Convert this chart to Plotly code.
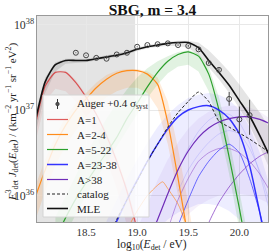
import plotly.graph_objects as go
import numpy as np

# ---------------- data (log10 of E^3 J) ----------------
X = [18.0, 18.1, 18.2, 18.3, 18.4, 18.5, 18.6, 18.7, 18.8, 18.9, 19.0, 19.1,
     19.2, 19.3, 19.4, 19.5, 19.6, 19.7, 19.8, 19.9, 20.0, 20.1, 20.2, 20.3]

mle = [36.85, 37.33, 37.53, 37.58, 37.58, 37.58, 37.60, 37.62, 37.64, 37.67, 37.71, 37.74,
       37.76, 37.78, 37.79, 37.79, 37.73, 37.58, 37.44, 37.29, 37.11, 36.93, 36.70, 36.45]
mle_hi = [36.95, 37.38, 37.56, 37.60, 37.60, 37.60, 37.62, 37.64, 37.66, 37.69, 37.73, 37.76,
          37.78, 37.80, 37.81, 37.81, 37.79, 37.70, 37.58, 37.45, 37.30, 37.14, 36.97, 36.78]
mle_lo = [36.70, 37.20, 37.45, 37.54, 37.55, 37.56, 37.58, 37.60, 37.62, 37.65, 37.69, 37.72,
          37.74, 37.75, 37.75, 37.73, 37.64, 37.50, 37.36, 37.20, 37.02, 36.82, 36.57, 36.30]

X_a1 = [18.0, 18.1, 18.2, 18.3, 18.4, 18.5, 18.6, 18.7, 18.8, 18.9, 19.0, 19.1]
a1 = [36.80, 37.28, 37.44, 37.44, 37.32, 37.15, 36.95, 36.70, 36.40, 36.05, 35.60, 35.10]
a1_hi = [36.90, 37.33, 37.46, 37.46, 37.35, 37.18, 36.98, 36.74, 36.45, 36.10, 35.68, 35.20]
a1_lo = [36.60, 37.10, 37.25, 37.22, 37.10, 36.92, 36.70, 36.42, 36.08, 35.65, 35.15, 34.60]

X_a2 = [18.0, 18.1, 18.2, 18.3, 18.4, 18.5, 18.6, 18.7, 18.8, 18.9, 19.0, 19.1,
        19.2, 19.3, 19.4, 19.5, 19.6]
a2 = [35.97, 36.30, 36.60, 36.82, 37.00, 37.13, 37.26, 37.36, 37.43, 37.46, 37.46, 37.42,
      37.30, 36.85, 36.20, 35.50, 34.80]
a2_hi = [36.10, 36.42, 36.70, 36.92, 37.08, 37.20, 37.32, 37.41, 37.46, 37.48, 37.48, 37.45,
         37.38, 37.10, 36.55, 35.90, 35.20]
a2_lo = [35.70, 36.05, 36.35, 36.58, 36.76, 36.92, 37.05, 37.15, 37.22, 37.26, 37.26, 37.20,
         37.02, 36.60, 36.00, 35.35, 34.70]

X_a5 = [18.2, 18.3, 18.4, 18.5, 18.6, 18.7, 18.8, 18.9, 19.0, 19.1, 19.2, 19.3,
        19.4, 19.5, 19.6, 19.7, 19.8, 19.9, 20.0, 20.1, 20.2]
a5 = [35.50, 35.74, 35.96, 36.15, 36.33, 36.50, 36.68, 36.90, 37.08, 37.27, 37.44, 37.57,
      37.65, 37.68, 37.63, 37.42, 37.00, 36.45, 35.85, 35.20, 34.60]
a5_hi = [35.75, 36.00, 36.25, 36.48, 36.70, 36.90, 37.08, 37.24, 37.38, 37.49, 37.57, 37.63,
         37.68, 37.70, 37.66, 37.50, 37.15, 36.65, 36.05, 35.40, 34.80]
a5_lo = [35.30, 35.55, 35.78, 36.00, 36.20, 36.38, 36.56, 36.75, 36.95, 37.14, 37.30, 37.43,
         37.51, 37.53, 37.45, 37.22, 36.80, 36.25, 35.60, 35.00, 34.40]

X_hi = [18.7, 18.8, 18.9, 19.0, 19.1, 19.2, 19.3, 19.4, 19.5, 19.6, 19.7, 19.8,
        19.9, 20.0, 20.1, 20.2, 20.3]
a23 = [35.45, 35.70, 35.95, 36.18, 36.40, 36.60, 36.78, 36.92, 37.00, 37.04, 37.05, 37.00,
       36.90, 36.72, 36.35, 35.80, 35.20]
a23_hi = [35.70, 35.95, 36.20, 36.42, 36.62, 36.80, 36.95, 37.06, 37.14, 37.18, 37.20, 37.18,
          37.12, 37.00, 36.80, 36.50, 36.10]
a23_lo = [34.80, 35.00, 35.20, 35.35, 35.50, 35.62, 35.72, 35.80, 35.85, 35.90, 35.90, 35.88,
          35.82, 35.72, 35.60, 35.45, 35.30]
catalog = [35.45, 35.72, 35.95, 36.17, 36.40, 36.60, 36.80, 36.97, 37.10, 37.21, 37.10, 36.87,
           36.80, 36.73, 36.66, 36.58, 36.50]

X_a39 = [19.0, 19.1, 19.2, 19.3, 19.4, 19.5, 19.6, 19.7, 19.8, 19.9, 20.0, 20.1, 20.2, 20.3]
a39 = [35.20, 35.45, 35.72, 36.02, 36.30, 36.52, 36.68, 36.79, 36.86, 36.90, 36.92, 36.92,
       36.89, 36.84]
a39_hi = [35.60, 35.90, 36.18, 36.42, 36.62, 36.78, 36.90, 36.98, 37.03, 37.05, 37.05, 37.03,
          36.98, 36.90]
a39_lo = [34.80, 35.05, 35.30, 35.50, 35.65, 35.78, 35.88, 35.95, 36.00, 36.02, 36.02, 36.00,
          35.96, 35.90]

# a few individually visible ensemble members
X_b2 = [19.4, 19.5, 19.6, 19.7, 19.8, 19.9, 20.0, 20.1, 20.2, 20.3]
blue_b2 = [35.65, 35.95, 36.22, 36.40, 36.53, 36.60, 36.50, 36.20, 35.80, 35.30]
blue_b3 = [36.30, 36.55, 36.75, 36.88, 36.95, 36.95, 36.85, 36.62, 36.25, 35.80]
blue_b4 = [36.05, 36.30, 36.48, 36.62, 36.72, 36.76, 36.72, 36.55, 36.28, 35.90]
X_p2 = [19.6, 19.7, 19.8, 19.9, 20.0, 20.1, 20.2, 20.3]
purple_p2 = [35.35, 35.68, 35.92, 36.10, 36.25, 36.37, 36.46, 36.52]
X_p3 = [19.2, 19.3, 19.4, 19.5, 19.6, 19.7, 19.8, 19.9, 20.0, 20.1, 20.2, 20.3]
purple_p3 = [35.20, 35.60, 35.95, 36.20, 36.40, 36.50, 36.55, 36.55, 36.50, 36.40, 36.25, 36.05]
X_o2 = [18.9, 19.0, 19.1, 19.2, 19.25, 19.3, 19.4, 19.5]
orange_o2 = [35.60, 35.82, 36.00, 36.12, 36.16, 36.08, 35.90, 35.60]

# Auger data (+0.4 sigma_syst)
auger_x = [18.4, 18.5, 18.6, 18.7, 18.8, 18.9, 19.0, 19.1, 19.2, 19.3, 19.4, 19.5,
           19.6, 19.7, 19.8, 19.9, 20.0, 20.1]
auger_y = [37.67, 37.64, 37.61, 37.60, 37.65, 37.67, 37.74, 37.76, 37.77, 37.78, 37.76, 37.75,
           37.71, 37.55, 37.47, 37.13, 36.89, 36.94]
auger_eu = [0.005, 0.005, 0.005, 0.005, 0.005, 0.005, 0.005, 0.005, 0.006, 0.007, 0.008, 0.01,
            0.012, 0.015, 0.02, 0.08, 0.15, 0.18]
auger_ed = [0.005, 0.005, 0.005, 0.005, 0.005, 0.005, 0.005, 0.005, 0.006, 0.007, 0.008, 0.01,
            0.012, 0.015, 0.02, 0.08, 0.16, 0.23]

xticks = [18.5, 19.0, 19.5, 20.0]
xticklabels = ["18.5", "19.0", "19.5", "20.0"]
shade_end = 18.98

legend_labels = ["Auger +0.4 σ<sub>syst</sub>", "A=1", "A=2-4", "A=5-22", "A=23-38",
                 "A&gt;38", "catalog", "MLE"]

# ---------------- figure ----------------
def lin(v):
    return list(10.0 ** np.asarray(v))

SERIF = "Liberation Serif, DejaVu Serif, serif"
fig = go.Figure()

def band(xs, hi, lo, fillcolor):
    fig.add_trace(go.Scatter(
        x=list(xs) + list(xs)[::-1], y=lin(list(hi) + list(lo)[::-1]),
        fill="toself", fillcolor=fillcolor, line=dict(width=0),
        mode="lines", showlegend=False, hoverinfo="skip"))

def thin(xs, ys, color, w=0.8):
    fig.add_trace(go.Scatter(x=xs, y=lin(ys), mode="lines",
                             line=dict(color=color, width=w, shape="spline", smoothing=0.6),
                             showlegend=False, hoverinfo="skip"))

band(X_hi, a23_hi, a23_lo, "rgba(90,90,255,0.11)")
band(X_a39, a39_hi, a39_lo, "rgba(130,60,200,0.07)")
band(X_a1, a1_hi, a1_lo, "rgba(214,39,40,0.09)")
band(X_a2, a2_hi, a2_lo, "rgba(255,127,14,0.15)")
band(X_a5, a5_hi, a5_lo, "rgba(44,160,44,0.14)")
band(X, mle_hi, mle_lo, "rgba(0,0,0,0.10)")
thin(X_b2, blue_b3, "rgba(80,80,255,0.25)", 0.7)
thin(X_b2, blue_b4, "rgba(80,80,255,0.25)", 0.7)
thin(X_b2, blue_b2, "rgba(40,40,255,0.75)", 0.9)
thin(X_p2, purple_p2, "rgba(120,40,190,0.75)", 0.9)
thin(X_p3, purple_p3, "rgba(120,40,190,0.55)", 0.8)
thin(X_o2, orange_o2, "rgba(255,127,14,0.75)", 0.8)

styles = {}
def main(xs, ys, key, color, w, dash=None):
    styles[key] = (color, w, dash)
    fig.add_trace(go.Scatter(x=xs, y=lin(ys), mode="lines", showlegend=False,
                             line=dict(color=color, width=w, dash=dash, shape="spline", smoothing=0.6)))

main(X_a1, a1, "A=1", "rgba(214,39,40,0.75)", 1.2)
main(X_a2, a2, "A=2-4", "#ff8c1a", 1.2)
main(X_a5, a5, "A=5-22", "#2ca02c", 1.2)
main(X_hi, a23, "A=23-38", "rgba(30,30,255,0.9)", 1.5)
main(X_a39, a39, "A&gt;38", "#6f2cb8", 1.2)
main(X_hi, catalog, "catalog", "#222222", 1.0, dash="3px,2px")
main(X, mle, "MLE", "#111111", 1.6)

ay = np.asarray(auger_y)
err_plus = list(10 ** (ay + np.asarray(auger_eu)) - 10 ** ay)
err_minus = list(10 ** ay - 10 ** (ay - np.asarray(auger_ed)))
fig.add_trace(go.Scatter(
    x=auger_x, y=lin(auger_y), mode="markers", showlegend=False,
    marker=dict(symbol="circle-open", size=5, color="#444", line=dict(width=1, color="#444")),
    error_y=dict(type="data", array=err_plus, arrayminus=err_minus, color="#444",
                 thickness=1, width=0)))

fig.add_shape(type="rect", xref="x", yref="paper", x0=17.9, x1=shade_end, y0=0, y1=1,
              fillcolor="#e4e4e4", line=dict(width=0), layer="below")

# ---- manual legend and axis titles (paper coordinates) ----
L = 37.0; T = 16.0; W = 231.0; H = 206.0
def px2x(px): return (px - L) / W
def py2y(py): return (T + H - py) / H

fig.add_shape(type="rect", xref="paper", yref="paper",
              x0=px2x(43), x1=px2x(149), y0=py2y(217), y1=py2y(95),
              fillcolor="rgba(255,255,255,0.82)", line=dict(color="#d4d4d4", width=1), layer="above")
rows = [104, 119.5, 134.5, 149.5, 164.5, 179.5, 194, 208.5]
for lab, ry in zip(legend_labels, rows):
    if lab.startswith("Auger"):
        fig.add_shape(type="line", xref="paper", yref="paper", x0=px2x(57.5), x1=px2x(57.5),
                      y0=py2y(ry - 5), y1=py2y(ry + 5), line=dict(color="#333", width=1), layer="above")
        fig.add_shape(type="circle", xref="paper", yref="paper", x0=px2x(55.8), x1=px2x(59.2),
                      y0=py2y(ry + 1.7), y1=py2y(ry - 1.7), fillcolor="#555",
                      line=dict(color="#333", width=0.8), layer="above")
    else:
        c, w, d = styles[lab]
        fig.add_shape(type="line", xref="paper", yref="paper", x0=px2x(47), x1=px2x(68),
                      y0=py2y(ry), y1=py2y(ry), line=dict(color=c, width=w, dash=d), layer="above")
    fig.add_annotation(xref="paper", yref="paper", x=px2x(75), y=py2y(ry), text=lab,
                       showarrow=False, xanchor="left", yanchor="middle",
                       font=dict(family=SERIF, size=11, color="#222"))

fig.add_annotation(xref="paper", yref="paper", x=px2x(152), y=py2y(244.5), text=
                   "log<sub>10</sub>(<i>E</i><sub>det</sub> / eV)", showarrow=False,
                   xanchor="center", yanchor="middle",
                   font=dict(family=SERIF, size=11.5, color="#222"))
fig.add_annotation(xref="paper", yref="paper", x=px2x(12), y=py2y(122), textangle=-90, text=
                   "<i>E</i><sup>3</sup><sub>det</sub> <i>J</i><sub>det</sub>(<i>E</i><sub>det</sub>) / (km<sup>−2</sup> yr<sup>−1</sup> sr<sup>−1</sup> eV<sup>2</sup>)",
                   showarrow=False, xanchor="center", yanchor="middle",
                   font=dict(family=SERIF, size=11, color="#222"))

fig.update_layout(
    width=270, height=252,
    margin=dict(l=37, r=2, t=16, b=30, autoexpand=False),
    paper_bgcolor="white", plot_bgcolor="white",
    font=dict(family=SERIF, size=10, color="#222"),
    title=dict(text="<b>SBG, m = 3.4</b>", xref="paper", x=0.5, xanchor="center",
               yref="container", y=0.962, yanchor="middle",
               font=dict(family=SERIF, size=15.5, color="#111")),
    showlegend=False,
)
fig.update_xaxes(range=[18.02, 20.28], tickvals=xticks, ticktext=xticklabels,
                 showgrid=True, gridcolor="#e8e8e8", gridwidth=1, automargin=False,
                 showline=True, mirror=True, linecolor="#999", linewidth=1,
                 ticks="", zeroline=False,
                 tickfont=dict(family=SERIF, size=11, color="#333"))
fig.update_yaxes(type="log", range=[35.69, 38.1], dtick=1, exponentformat="power",
                 showgrid=True, gridcolor="#e8e8e8", gridwidth=1, automargin=False,
                 showline=True, mirror=True, linecolor="#999", linewidth=1,
                 ticks="", zeroline=False, minor=dict(showgrid=False),
                 tickfont=dict(family=SERIF, size=9.5, color="#333"))

fig.write_html("out.html", config={"displayModeBar": False, "staticPlot": True},
               post_script="document.body.style.margin='0';document.body.style.overflow='hidden';")
